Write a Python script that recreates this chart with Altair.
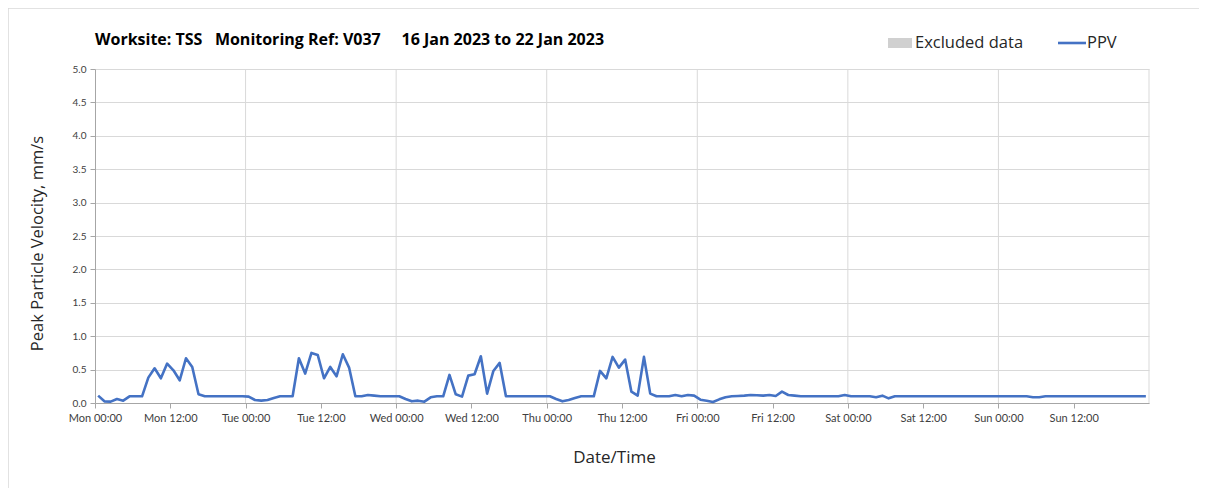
import altair as alt
import pandas as pd

# Hourly PPV readings, Mon 16 Jan 2023 00:30 .. Sun 22 Jan 2023 23:30 (mm/s)
mon = [0.11, 0.025, 0.02, 0.06, 0.035, 0.1, 0.1, 0.1, 0.38, 0.52, 0.37, 0.59,
       0.49, 0.34, 0.67, 0.54, 0.13, 0.1, 0.1, 0.1, 0.1, 0.1, 0.1, 0.1]
tue = [0.095, 0.045, 0.035, 0.045, 0.075, 0.1, 0.1, 0.1, 0.67, 0.44, 0.75, 0.72,
       0.37, 0.54, 0.40, 0.73, 0.53, 0.1, 0.1, 0.12, 0.11, 0.1, 0.1, 0.1]
wed = [0.1, 0.06, 0.025, 0.035, 0.02, 0.085, 0.1, 0.1, 0.42, 0.13, 0.095, 0.41,
       0.43, 0.70, 0.14, 0.48, 0.60, 0.1, 0.1, 0.1, 0.1, 0.1, 0.1, 0.1]
thu = [0.1, 0.06, 0.025, 0.045, 0.075, 0.1, 0.1, 0.1, 0.48, 0.37, 0.69, 0.53,
       0.65, 0.17, 0.11, 0.69, 0.14, 0.1, 0.1, 0.1, 0.12, 0.1, 0.12, 0.11]
fri = [0.05, 0.035, 0.015, 0.055, 0.085, 0.1, 0.105, 0.11, 0.12, 0.115, 0.11, 0.12,
       0.105, 0.17, 0.12, 0.11, 0.1, 0.1, 0.1, 0.1, 0.1, 0.1, 0.1, 0.12]
sat = [0.1, 0.1, 0.1, 0.1, 0.085, 0.11, 0.07, 0.1, 0.1, 0.1, 0.1, 0.1,
       0.1, 0.1, 0.1, 0.1, 0.1, 0.1, 0.1, 0.1, 0.1, 0.1, 0.1, 0.1]
sun = [0.1, 0.1, 0.1, 0.1, 0.1, 0.085, 0.085, 0.1, 0.1, 0.1, 0.1, 0.1,
       0.1, 0.1, 0.1, 0.1, 0.1, 0.1, 0.1, 0.1, 0.1, 0.1, 0.1, 0.1]

ppv = mon + tue + wed + thu + fri + sat + sun
hours = [i + 0.5 for i in range(len(ppv))]

day_names = ["Mon", "Tue", "Wed", "Thu", "Fri", "Sat", "Sun"]
x_ticks = list(range(0, 168, 12))
day_lines = [24, 48, 72, 96, 120, 144, 168]
y_ticks = [0, 0.5, 1.0, 1.5, 2.0, 2.5, 3.0, 3.5, 4.0, 4.5, 5.0]

title_text = "Worksite: TSS\u00a0\u00a0\u00a0Monitoring Ref: V037\u00a0\u00a0\u00a0\u00a0\u00a016 Jan 2023 to 22 Jan 2023"

FONT = "Lato"
FONT2 = "Open Sans"
BLUE = "#4472C4"
GRID = "#d9d9d9"

df = pd.DataFrame({"hour": hours, "ppv": ppv})
grid_df = pd.DataFrame({"hour": day_lines})
one = pd.DataFrame({"k": [0]})

label_expr = ("['Mon','Tue','Wed','Thu','Fri','Sat','Sun'][floor(datum.value/24)] + ' ' + "
              "(datum.value % 24 == 0 ? '00:00' : '12:00')")

x_scale = alt.Scale(domain=[0, 168], nice=False, zero=False)
y_scale = alt.Scale(domain=[0, 5], nice=False)

vgrid = alt.Chart(grid_df).mark_rule(color=GRID, strokeWidth=1).encode(
    x=alt.X("hour:Q", scale=x_scale)
)

line = alt.Chart(df).mark_line(color=BLUE, strokeWidth=2.6, strokeJoin="round").encode(
    x=alt.X(
        "hour:Q",
        scale=x_scale,
        axis=alt.Axis(
            values=x_ticks,
            labelExpr=label_expr,
            grid=False,
            title="Date/Time",
            titleFontSize=17,
            titleFont=FONT2,
            titleFontWeight="normal",
            titleColor="#262626",
            titlePadding=26,
            titleX=519,
            titleAlign="center",
            labelFont=FONT,
            labelFontSize=11,
            labelColor="#404040",
            labelPadding=4,
            tickSize=5,
            tickColor="#a6a6a6",
            domainColor="#a6a6a6",
            labelFlush=False,
            labelOverlap=False,
        ),
    ),
    y=alt.Y(
        "ppv:Q",
        scale=y_scale,
        axis=alt.Axis(
            values=y_ticks,
            format=".1f",
            grid=True,
            gridColor=GRID,
            title="Peak Particle Velocity, mm/s",
            titleFontSize=16.5,
            titleFont=FONT2,
            titleFontWeight="normal",
            titleColor="#262626",
            titlePadding=27,
            titleY=174,
            titleAlign="center",
            labelFont=FONT,
            labelFontSize=10,
            labelColor="#404040",
            labelPadding=4,
            tickSize=5,
            tickColor="#a6a6a6",
            domainColor="#a6a6a6",
        ),
    ),
)

# Frame lines (top and left border of the chart panel)
frame_top = alt.Chart(one).mark_rule(color=GRID, strokeWidth=1.5).encode(
    x=alt.value(-87), x2=alt.value(1120), y=alt.value(-61)
)
frame_left = alt.Chart(one).mark_rule(color=GRID, strokeWidth=1.5).encode(
    x=alt.value(-87), y=alt.value(-61), y2=alt.value(430)
)

# Legend
leg_rect = alt.Chart(one).mark_rect(color="#d0d0d0").encode(
    x=alt.value(793), x2=alt.value(817), y=alt.value(-31), y2=alt.value(-21)
)
leg_text1 = alt.Chart(one).mark_text(
    text="Excluded data", align="left", baseline="middle", font=FONT2, fontSize=16.5, color="#262626"
).encode(x=alt.value(820), y=alt.value(-26))
leg_line = alt.Chart(one).mark_rule(color=BLUE, strokeWidth=2.6).encode(
    x=alt.value(963), x2=alt.value(991), y=alt.value(-26)
)
leg_text2 = alt.Chart(one).mark_text(
    text="PPV", align="left", baseline="middle", font=FONT2, fontSize=16.5, color="#262626"
).encode(x=alt.value(992), y=alt.value(-26))

# Title
title_mark = alt.Chart(one).mark_text(
    text=title_text, align="left", baseline="middle", font=FONT2, fontSize=16,
    fontWeight="bold", color="#000000"
).encode(x=alt.value(0), y=alt.value(-29))

chart = alt.layer(
    vgrid, line, frame_top, frame_left, leg_rect, leg_text1, leg_line, leg_text2, title_mark
).properties(
    width=1054,
    height=334,
    padding={"left": 87, "top": 61, "right": 50, "bottom": 85},
    autosize=alt.AutoSizeParams(type="none"),
    background="white",
).configure_view(stroke=None)

chart.save("out.html", embed_options={"renderer": "svg", "actions": False})
